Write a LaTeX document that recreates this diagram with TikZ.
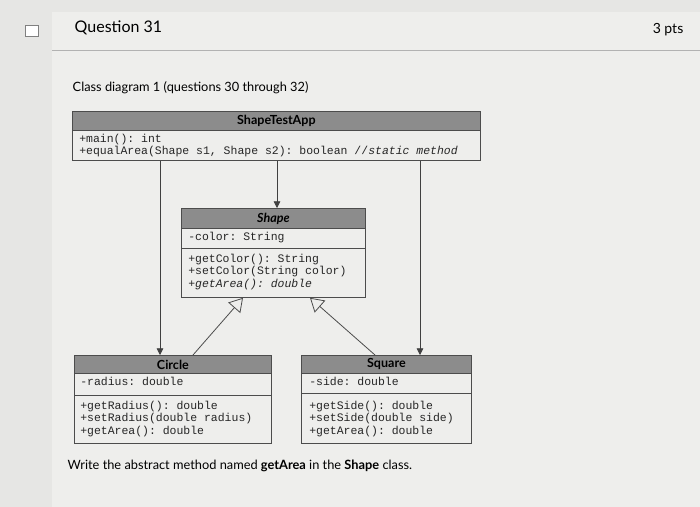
\documentclass[tikz,border=0pt]{standalone}
\usepackage{fontspec}
\setmainfont{Lato}
\setmonofont{Liberation Mono}
\usetikzlibrary{arrows.meta}
\definecolor{bg}{HTML}{E6E6E4}
\definecolor{card}{HTML}{EEEEEC}
\definecolor{band}{HTML}{8C8C8C}
\tikzset{
  box/.style={draw=black!70, fill=card, line width=0.6pt, inner sep=0, anchor=north west},
  title/.style={box, fill=band},
  mono/.style={anchor=north west, inner sep=0, font=\ttfamily\fontsize{8.6}{9.3}\selectfont, align=left, text=black!85},
  ttl/.style={inner sep=0, font=\bfseries\fontsize{9.4}{10}\selectfont},
  dep/.style={draw=black!75, line width=0.6pt, -{Triangle[length=5pt,width=5pt]}},
  inh/.style={draw=black!70, line width=0.6pt, -{Triangle[open,length=10pt,width=12pt,fill=card]}}
}
\begin{document}
\begin{tikzpicture}[x=0.75pt,y=-0.75pt]
\useasboundingbox (0,0) rectangle (700,507);
\fill[bg] (0,0) rectangle (700,507);
\fill[card] (52,12) rectangle (700,507);
\draw[black!30] (52,50) -- (700,50);
\node[draw=black!50, fill=white, minimum width=10pt, minimum height=8pt, inner sep=0] (icon) at (32,31) {};
\node[anchor=west, font=\fontsize{12}{14}\selectfont] (q) at (70,28) {Question 31};
\node[anchor=east, font=\fontsize{10.5}{12}\selectfont] (pts) at (688,30) {3 pts};
\node[anchor=west, font=\fontsize{9.6}{11}\selectfont] (cap) at (68,88) {Class diagram 1 (questions 30 through 32)};

% ShapeTestApp
\node[title, minimum width=306pt, minimum height=14.25pt] (appT) at (72,111) {};
\node[ttl] at (appT.center) {ShapeTestApp};
\node[box, minimum width=306pt, minimum height=22.5pt] (appB) at (72,130) {};
\node[mono] at (79,134) {+main(): int\\+equalArea(Shape s1, Shape s2): boolean //\textit{static method}};

% Shape
\node[title, minimum width=138pt, minimum height=15pt] (shT) at (181,208) {};
\node[ttl] at (shT.center) {\itshape Shape};
\node[box, minimum width=138pt, minimum height=15pt] (shA) at (181,228) {};
\node[mono] at (188,232) {-color: String};
\node[box, minimum width=138pt, minimum height=36.75pt] (shM) at (181,248) {};
\node[mono] at (188,254) {+getColor(): String\\+setColor(String color)\\+\textit{getArea(): double}};

% Circle
\node[title, minimum width=147.75pt, minimum height=13.5pt] (ciT) at (74,355) {};
\node[ttl] at (ciT.center) {Circle};
\node[box, minimum width=147.75pt, minimum height=16.5pt] (ciA) at (74,373) {};
\node[mono] at (80,377) {-radius: double};
\node[box, minimum width=147.75pt, minimum height=36pt] (ciM) at (74,395) {};
\node[mono] at (80,401) {+getRadius(): double\\+setRadius(double radius)\\+getArea(): double};

% Square
\node[title, minimum width=127.5pt, minimum height=13.5pt] (sqT) at (301,355) {};
\node[ttl] at (sqT.center) {Square};
\node[box, minimum width=127.5pt, minimum height=15pt] (sqA) at (301,373) {};
\node[mono] at (309,377) {-side: double};
\node[box, minimum width=127.5pt, minimum height=37.5pt] (sqM) at (301,393) {};
\node[mono] at (309,401) {+getSide(): double\\+setSide(double side)\\+getArea(): double};

\node[anchor=west, font=\fontsize{9.6}{11}\selectfont] (qtext) at (63,466) {Write the abstract method named \textbf{getArea} in the \textbf{Shape} class.};

% connectors
\draw[dep] (appB.south -| 160,0) -- (ciT.north -| 160,0);
\draw[dep] (appB.south -| 277,0) -- (shT.north -| 277,0);
\draw[dep] (appB.south -| 420,0) -- (sqT.north -| 420,0);
\draw[inh] (ciT.north -| 193,0) -- (shM.south -| 243,0);
\draw[inh] (sqT.north -| 375,0) -- (shM.south -| 310,0);
\end{tikzpicture}
\end{document}
